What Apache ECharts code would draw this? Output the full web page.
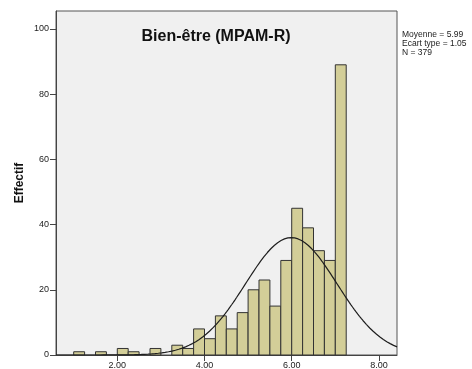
<!DOCTYPE html>
<html>
<head>
<meta charset="utf-8">
<script src="https://cdn.jsdelivr.net/npm/echarts@6/dist/echarts.min.js"></script>
<style>
  html, body { margin: 0; padding: 0; background: #ffffff; }
  #chart { width: 472px; height: 369px; }
</style>
</head>
<body>
<div id="chart"></div>
<script>
// Histogram bins (lower edge of each 0.25-wide class) and their counts
const binStarts = [1.00, 1.25, 1.50, 1.75, 2.00, 2.25, 2.50, 2.75, 3.00, 3.25, 3.50, 3.75,
                   4.00, 4.25, 4.50, 4.75, 5.00, 5.25, 5.50, 5.75, 6.00, 6.25, 6.50, 6.75, 7.00];
const counts    = [1, 0, 1, 0, 2, 1, 0, 2, 0, 3, 2, 8,
                   5, 12, 8, 13, 20, 23, 15, 29, 45, 39, 32, 29, 89];
const binWidth = 0.25;

// Summary statistics shown beside the plot
const MEAN = 5.99;
const SD = 1.05;
const N = 379;

const xTicks = [2, 4, 6, 8];
const yTicks = [0, 20, 40, 60, 80, 100];

const X_MIN = 0.594, X_MAX = 8.415;
const Y_MAX = 105.5;

// Fitted normal curve scaled to counts per bin
const curve = [];
for (let i = 0; i <= 200; i++) {
  const x = X_MIN + (X_MAX - X_MIN) * i / 200;
  const z = (x - MEAN) / SD;
  curve.push([x, N * binWidth * Math.exp(-0.5 * z * z) / (SD * Math.sqrt(2 * Math.PI))]);
}

const bars = binStarts.map((s, i) => [s, s + binWidth, counts[i]]).filter(d => d[2] > 0);

const chart = echarts.init(document.getElementById('chart'), null, { renderer: 'canvas' });
chart.setOption({
  animation: false,
  backgroundColor: '#ffffff',
  grid: {
    left: 56, right: 75, top: 11, bottom: 14,
    outerBoundsMode: 'none', containLabel: false,
    show: true, backgroundColor: '#f0f0f0', borderColor: '#555555', borderWidth: 1
  },
  xAxis: {
    type: 'value', min: X_MIN, max: X_MAX,
    axisLine: { show: true, lineStyle: { color: '#444444', width: 1 } },
    axisTick: { show: true, length: 6, lineStyle: { color: '#444444' }, customValues: xTicks },
    axisLabel: {
      customValues: xTicks, margin: 6, color: '#222222',
      fontFamily: 'Liberation Sans, Arial, sans-serif', fontSize: 9,
      formatter: v => v.toFixed(2)
    },
    splitLine: { show: false }
  },
  yAxis: {
    type: 'value', min: 0, max: Y_MAX,
    axisLine: { show: true, lineStyle: { color: '#444444', width: 1 } },
    axisTick: { show: true, length: 6, lineStyle: { color: '#444444' }, customValues: yTicks },
    axisLabel: {
      customValues: yTicks, margin: 7, color: '#222222',
      fontFamily: 'Liberation Sans, Arial, sans-serif', fontSize: 9
    },
    splitLine: { show: false }
  },
  series: [
    {
      type: 'custom',
      data: bars,
      renderItem: function (params, api) {
        const p0 = api.coord([api.value(0), api.value(2)]);
        const p1 = api.coord([api.value(1), 0]);
        return {
          type: 'rect',
          shape: { x: p0[0], y: p0[1], width: p1[0] - p0[0], height: p1[1] - p0[1] },
          style: { fill: '#d3ce98', stroke: '#333333', lineWidth: 1 }
        };
      },
      z: 2
    },
    {
      type: 'line',
      data: curve,
      showSymbol: false,
      smooth: false,
      lineStyle: { color: '#1e1e1e', width: 1.2 },
      z: 3
    }
  ],
  graphic: [
    {
      type: 'text', x: 216, y: 36.5, z: 10,
      style: {
        text: 'Bien-être (MPAM-R)', fill: '#111111',
        font: 'bold 16px "Liberation Sans", Arial, sans-serif',
        textAlign: 'center', textVerticalAlign: 'middle'
      }
    },
    {
      type: 'text', x: 20, y: 183, rotation: Math.PI / 2, z: 10,
      style: {
        text: 'Effectif', fill: '#111111',
        font: 'bold 12px "Liberation Sans", Arial, sans-serif',
        textAlign: 'center', textVerticalAlign: 'middle'
      }
    },
    {
      type: 'text', x: 402, y: 30.5, z: 10,
      style: {
        text: 'Moyenne = ' + MEAN.toFixed(2) + '\nEcart type = ' + SD.toFixed(2) + '\nN = ' + N,
        fill: '#222222',
        font: '8.5px "Liberation Sans", Arial, sans-serif',
        lineHeight: 8.7, textAlign: 'left', textVerticalAlign: 'top'
      }
    }
  ]
});
</script>
</body>
</html>
